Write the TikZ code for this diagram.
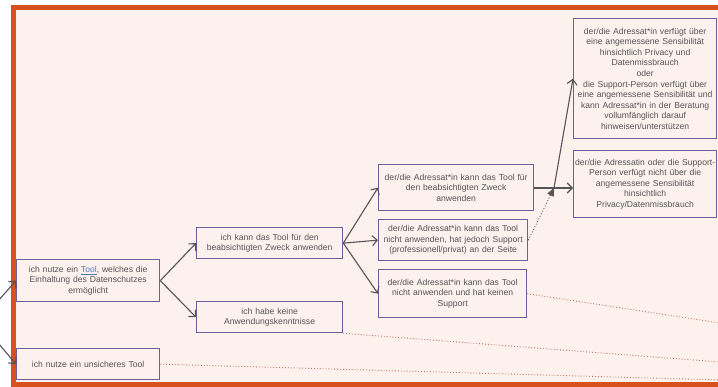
\documentclass[tikz,border=0pt]{standalone}
\usepackage{fontspec}
\setmainfont{Liberation Sans}
\usetikzlibrary{arrows.meta}
\definecolor{frameorange}{HTML}{D6511D}
\definecolor{bgpink}{HTML}{FCF1ED}
\definecolor{boxborder}{HTML}{6B5E9E}
\definecolor{txtgray}{HTML}{555555}
\definecolor{linkblue}{HTML}{5577BB}
\definecolor{dotred}{HTML}{B8735E}
\definecolor{arrowgray}{HTML}{555555}
\begin{document}
\begin{tikzpicture}[x=1pt,y=-1pt,
  box/.style={draw=boxborder,line width=1.3pt,fill=bgpink,text=txtgray,
    font=\fontsize{8.6}{10.6}\selectfont,align=center,inner sep=0pt,anchor=north west},
  conn/.style={draw=arrowgray,line width=1.1pt,-{Straight Barb[length=5pt,width=10pt]}},
  dotconn/.style={draw=dotred,line width=0.9pt,dotted},
  dotarrow/.style={draw=arrowgray,line width=0.9pt,dotted,-{Triangle[length=8pt,width=7pt]}}]
\useasboundingbox (0,0) rectangle (718,387);
\fill[white] (0,0) rectangle (718,387);
\draw[frameorange,line width=5.5pt,fill=bgpink] (13.5,7.5) rectangle (740,384.5);

\node[box,minimum width=143pt,minimum height=42pt,text width=140pt] (b1) at (16,259)
  {ich nutze ein {\color{linkblue}\underline{Tool}}, welches die\\Einhaltung des Datenschutzes\\ermöglicht};
\node[box,minimum width=143pt,minimum height=31pt,text width=140pt] (b2) at (16,348)
  {ich nutze ein unsicheres Tool};
\node[box,minimum width=146pt,minimum height=31pt,text width=144pt] (b3) at (196,227)
  {ich kann das Tool für den\\beabsichtigten Zweck anwenden};
\node[box,minimum width=146pt,minimum height=31pt,text width=144pt] (b4) at (196,301)
  {ich habe keine\\Anwendungskenntnisse};
\node[box,minimum width=155pt,minimum height=46pt,text width=153pt] (b5) at (378,164)
  {der/die Adressat*in kann das Tool für\\den beabsichtigten Zweck\\anwenden};
\node[box,minimum width=149pt,minimum height=41pt,text width=147pt] (b6) at (378,219)
  {der/die Adressat*in kann das Tool\\nicht anwenden, hat jedoch Support\\(professionell/privat) an der Seite};
\node[box,minimum width=148pt,minimum height=48pt,text width=146pt] (b7) at (378,269)
  {der/die Adressat*in kann das Tool\\nicht anwenden und hat keinen\\Support};
\node[box,minimum width=143pt,minimum height=120pt,text width=141pt] (b8) at (573,18)
  {der/die Adressat*in verfügt über\\eine angemessene Sensibilität\\hinsichtlich Privacy und\\Datenmissbrauch\\oder\\die Support-Person verfügt über\\eine angemessene Sensibilität und\\kann Adressat*in in der Beratung\\vollumfänglich darauf\\hinweisen/unterstützen};
\node[box,minimum width=143pt,minimum height=67pt,text width=141pt] (b9) at (573,150)
  {der/die Adressatin oder die Support-\\Person verfügt nicht über die\\angemessene Sensibilität\\hinsichtlich\\Privacy/Datenmissbrauch};

% left incoming arrows
\coordinate (lft) at (-20,321.5);
\draw[conn] (lft) -- (b1.west);
\draw[conn] (lft) -- (b2.west);

\draw[conn] (b1.east) -- (b3.west);
\draw[conn] (b1.east) -- (b4.west);
\draw[conn] (b3.east) -- (b5.west);
\draw[conn] (b3.east) -- (b6.west);
\draw[conn] (b3.east) -- (b7.west);

\coordinate (jn) at (554,188);
\draw[conn] (b5.east |- jn) -- (b9.west |- jn);
\draw[conn] (jn) -- (b8.west);
\draw[dotarrow] (b6.east) -- (jn);

% dotted continuations
\coordinate (e1) at (720,323);
\coordinate (e2) at (720,362);
\coordinate (e3) at (720,380);
\draw[dotconn] (b7.east) -- (e1);
\draw[dotconn] (b4.south east) -- (e2);
\draw[dotconn] (b2.east) -- (e3);
\end{tikzpicture}
\end{document}
